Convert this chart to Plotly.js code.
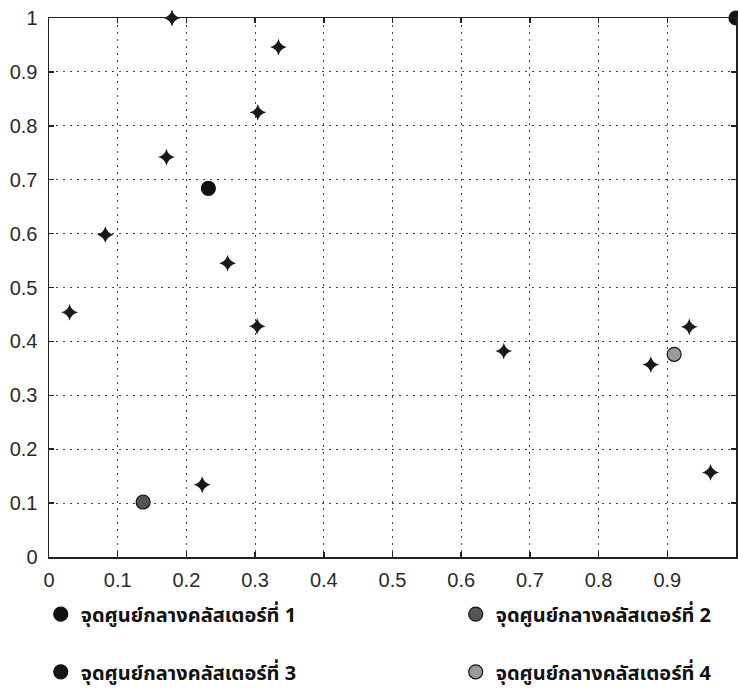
<!DOCTYPE html>
<html>
<head>
<meta charset="utf-8">
<script src="https://cdn.plot.ly/plotly-3.0.1.min.js"></script>
<style>html,body{margin:0;padding:0;background:#fff;}#chart{width:738px;height:698px;}</style>
</head>
<body>
<div id="chart"></div>
<script>
// data points (stars)
const starX = [0.179, 0.334, 0.304, 0.171, 0.082, 0.260, 0.030, 0.303, 0.223, 0.662, 0.876, 0.932, 0.963];
const starY = [1.000, 0.946, 0.825, 0.742, 0.598, 0.545, 0.454, 0.428, 0.134, 0.382, 0.357, 0.427, 0.157];
// cluster centres
const centreNames = ["จุดศูนย์กลางคลัสเตอร์ที่ 1", "จุดศูนย์กลางคลัสเตอร์ที่ 2", "จุดศูนย์กลางคลัสเตอร์ที่ 3", "จุดศูนย์กลางคลัสเตอร์ที่ 4"];
const centreX = [0.232, 0.137, 1.000, 0.910];
const centreY = [0.684, 0.102, 1.000, 0.376];
const centreColors = ["#111111", "#50565a", "#151515", "#9a9a9a"];
const tickVals = [0, 0.1, 0.2, 0.3, 0.4, 0.5, 0.6, 0.7, 0.8, 0.9, 1];
const tickText = ["0", "0.1", "0.2", "0.3", "0.4", "0.5", "0.6", "0.7", "0.8", "0.9", "1"];

const legendIds = ["legend", "legend2", "legend3", "legend4"];
const traces = [{
  type: "scatter", mode: "markers", x: starX, y: starY, showlegend: false,
  cliponaxis: false,
  marker: {symbol: "star-diamond", size: 12, color: "#1a1a1a", line: {width: 0}}
}];
centreNames.forEach((n, i) => {
  traces.push({
    type: "scatter", mode: "markers", name: n, x: [centreX[i]], y: [centreY[i]],
    cliponaxis: false,
    legend: legendIds[i],
    marker: {symbol: "circle", size: 14, color: centreColors[i], line: {width: 1.2, color: "#111"}}
  });
});

const axisCommon = {
  range: [0, 1], tickvals: tickVals, ticktext: tickText, ticks: "inside", ticklen: 5,
  tickcolor: "#222", tickwidth: 1.5, showline: true, linecolor: "#222", linewidth: 1.5,
  mirror: "ticks", showgrid: true, gridcolor: "#444", gridwidth: 1, griddash: "2px,5px",
  zeroline: false, automargin: false,
  tickfont: {family: "Liberation Sans, Arial, sans-serif", size: 20, color: "#2a2a2a"}
};
const legendFont = {family: "Noto Sans Thai, Noto Sans, DejaVu Sans, sans-serif", size: 20, color: "#111", weight: "bold"};
function leg(x, y) {
  return {orientation: "h", x: x, xanchor: "left", y: y, yanchor: "middle",
    font: legendFont, bgcolor: "rgba(0,0,0,0)"};
}
const layout = {
  width: 738, height: 698,
  margin: {l: 49, r: 2, t: 18, b: 141},
  paper_bgcolor: "#fff", plot_bgcolor: "#fff",
  xaxis: Object.assign({}, axisCommon, {ticklabelstandoff: 4}),
  yaxis: Object.assign({}, axisCommon, {ticklabelstandoff: 6}),
  legend: leg(-0.012, -0.106),
  legend2: leg(0.592, -0.106),
  legend3: leg(-0.012, -0.213),
  legend4: leg(0.592, -0.213)
};
Plotly.newPlot("chart", traces, layout, {staticPlot: true});
</script>
</body>
</html>
